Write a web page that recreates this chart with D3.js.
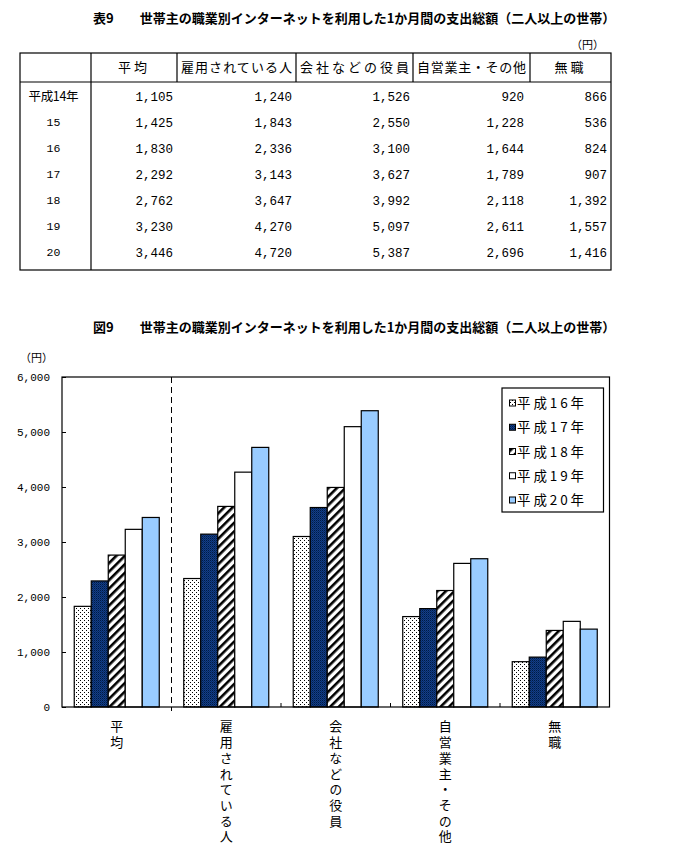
<!DOCTYPE html>
<html><head><meta charset="utf-8">
<script src="https://cdn.jsdelivr.net/npm/d3@7"></script>
<style>
html,body{margin:0;padding:0;background:#fff;}
svg{display:block;}
.jp{font-family:"Noto Sans CJK JP","Noto Sans CJK SC",sans-serif;}
.num{font-family:"Liberation Mono","DejaVu Sans Mono",monospace;}
</style></head>
<body>
<svg id="c" width="700" height="855"></svg>
<script>
// ---------- data ----------
const tableTitle = "表9　　世帯主の職業別インターネットを利用した1か月間の支出総額（二人以上の世帯）";
const chartTitle = "図9　　世帯主の職業別インターネットを利用した1か月間の支出総額（二人以上の世帯）";
const unitLabel = "（円）";
const categories = ["平均", "雇用されている人", "会社などの役員", "自営業主・その他", "無職"];
const yearLabels = ["平成14年", "15", "16", "17", "18", "19", "20"];
const avgValues      = [1105, 1425, 1830, 2292, 2762, 3230, 3446];
const employedValues = [1240, 1843, 2336, 3143, 3647, 4270, 4720];
const execValues     = [1526, 2550, 3100, 3627, 3992, 5097, 5387];
const selfValues     = [920, 1228, 1644, 1789, 2118, 2611, 2696];
const noJobValues    = [866, 536, 824, 907, 1392, 1557, 1416];
const chartYears = ["平成16年", "平成17年", "平成18年", "平成19年", "平成20年"];
const chartYearIndex = [2, 3, 4, 5, 6];
const yTicks = [0, 1000, 2000, 3000, 4000, 5000, 6000];

const seriesByCat = [avgValues, employedValues, execValues, selfValues, noJobValues];
const fmt = d3.format(",");

const svg = d3.select("#c");

// ---------- patterns ----------
const defs = svg.append("defs");
const pDots = defs.append("pattern").attr("id","pDots").attr("patternUnits","userSpaceOnUse")
  .attr("width",4).attr("height",4);
pDots.append("rect").attr("width",4).attr("height",4).attr("fill","#fff");
pDots.append("rect").attr("x",0).attr("y",0).attr("width",1).attr("height",1).attr("fill","#000");
pDots.append("rect").attr("x",2).attr("y",2).attr("width",1).attr("height",1).attr("fill","#000");

const pNavy = defs.append("pattern").attr("id","pNavy").attr("patternUnits","userSpaceOnUse")
  .attr("width",2).attr("height",2);
pNavy.append("rect").attr("width",2).attr("height",2).attr("fill","#123f88");
pNavy.append("rect").attr("x",0).attr("y",0).attr("width",1).attr("height",1).attr("fill","#001a44");
pNavy.append("rect").attr("x",1).attr("y",1).attr("width",1).attr("height",1).attr("fill","#0a2a66");

const pHatch = defs.append("pattern").attr("id","pHatch").attr("patternUnits","userSpaceOnUse")
  .attr("width",6).attr("height",6).attr("patternTransform","rotate(45)");
pHatch.append("rect").attr("width",6).attr("height",6).attr("fill","#fff");
pHatch.append("rect").attr("x",0).attr("y",0).attr("width",2.6).attr("height",6).attr("fill","#000");

const fills = ["url(#pDots)", "url(#pNavy)", "url(#pHatch)", "#ffffff", "#99ccff"];
const color = d3.scaleOrdinal(chartYears, fills);

// ---------- table ----------
svg.append("text").attr("class","jp").attr("x",93).attr("y",23)
  .attr("font-size",13).attr("font-weight","bold").text(tableTitle);
svg.append("text").attr("class","jp").attr("x",604).attr("y",49).attr("text-anchor","end")
  .attr("font-size",11).text(unitLabel);

const colX = [20, 91, 177, 296, 413, 530, 611];
const tTop = 53, tHead = 82, tBot = 270;
const rowY = d3.scalePoint(d3.range(yearLabels.length), [96, 251.5]);
const tg = svg.append("g").attr("stroke","#000").attr("fill","none").attr("stroke-width",1.2);
tg.append("rect").attr("x",colX[0]).attr("y",tTop).attr("width",colX[6]-colX[0]).attr("height",tBot-tTop);
tg.append("line").attr("x1",colX[0]).attr("x2",colX[6]).attr("y1",tHead).attr("y2",tHead);
tg.append("line").attr("x1",colX[1]).attr("x2",colX[1]).attr("y1",tTop).attr("y2",tBot);
[2,3,4,5].forEach(i=>tg.append("line").attr("x1",colX[i]).attr("x2",colX[i]).attr("y1",tTop).attr("y2",tHead));

categories.forEach((c,i)=>{
  const cx=(colX[i+1]+colX[i+2])/2;
  const t = svg.append("text").attr("class","jp").attr("x",cx).attr("y",72).attr("text-anchor","middle")
    .attr("font-size",13).text(c);
  if (c.length>4) t.attr("textLength",(colX[i+2]-colX[i+1])-8).attr("lengthAdjust","spacing");
  else t.attr("letter-spacing",3);
});
yearLabels.forEach((y,r)=>{
  const t = svg.append("text").attr("class", r===0?"jp":"num").attr("x",(colX[0]+colX[1])/2-2).attr("y",rowY(r)+4.5)
    .attr("text-anchor","middle").attr("font-size", r===0?12.5:11.5)
    .text(y);
  if (r===0) t.attr("textLength",50).attr("lengthAdjust","spacing");
});
const numRight = [173, 292, 410, 524, 607];
seriesByCat.forEach((vals,ci)=>{
  vals.forEach((v,r)=>{
    svg.append("text").attr("class","num").attr("x",numRight[ci]).attr("y",rowY(r)+5)
      .attr("text-anchor","end").attr("font-size",12.5).text(fmt(v));
  });
});

// ---------- chart ----------
svg.append("text").attr("class","jp").attr("x",93).attr("y",332)
  .attr("font-size",13).attr("font-weight","bold").text(chartTitle);
svg.append("text").attr("class","jp").attr("x",53).attr("y",362).attr("text-anchor","end")
  .attr("font-size",11).text(unitLabel);

const L=62, R=609.5, T=377, B=707;
const y = d3.scaleLinear([0,6000],[B,T]);
const x0 = d3.scaleBand(categories,[L,R]).padding(0);
const x1 = d3.scaleBand(chartYears,[0,x0.bandwidth()]).paddingInner(0).paddingOuter(0.72);

// y axis ticks (inward) and labels
const yAxis = d3.axisRight(y).tickValues(yTicks).tickSize(4).tickFormat("");
svg.append("g").attr("transform",`translate(${L},0)`).call(yAxis)
  .call(g=>g.select(".domain").remove())
  .call(g=>g.selectAll("line").attr("stroke","#000"));
svg.append("g").selectAll("text").data(yTicks).join("text").attr("class","num")
  .attr("x",50).attr("y",d=>y(d)+4).attr("text-anchor","end").attr("font-size",11).text(d=>fmt(d));

// bars
const barData = [];
categories.forEach((c,ci)=>chartYears.forEach((yr,k)=>{
  barData.push({cat:c, year:yr, value: seriesByCat[ci][chartYearIndex[k]]});
}));
svg.append("g").selectAll("rect").data(barData).join("rect")
  .attr("x",d=>x0(d.cat)+x1(d.year))
  .attr("y",d=>y(d.value))
  .attr("width",x1.bandwidth())
  .attr("height",d=>B-y(d.value))
  .attr("fill",d=>color(d.year))
  .attr("stroke","#000").attr("stroke-width",1.2);

// plot frame
svg.append("rect").attr("x",L).attr("y",T).attr("width",R-L).attr("height",B-T)
  .attr("fill","none").attr("stroke","#000").attr("stroke-width",1.2);

// category boundaries: dashed separator after 平均, inward ticks elsewhere
svg.append("line").attr("x1",x0(categories[1])).attr("x2",x0(categories[1]))
  .attr("y1",T).attr("y2",B+4).attr("stroke","#000").attr("stroke-dasharray","6,4");
svg.append("g").selectAll("line").data(categories.slice(2)).join("line")
  .attr("x1",d=>x0(d)).attr("x2",d=>x0(d)).attr("y1",B-4).attr("y2",B).attr("stroke","#000");

// vertical category labels
svg.append("g").selectAll("text").data(categories).join("text").attr("class","jp")
  .attr("x",d=>x0(d)+x0.bandwidth()/2).attr("y",720)
  .attr("writing-mode","tb").style("writing-mode","vertical-rl")
  .attr("font-size",13).attr("letter-spacing",2.7)
  .text(d=>d);

// legend
const lg = svg.append("g");
lg.append("rect").attr("x",502).attr("y",388).attr("width",101.5).attr("height",124)
  .attr("fill","#fff").attr("stroke","#000").attr("stroke-width",1.2);
const ly = d3.scalePoint(chartYears,[403,500]);
chartYears.forEach(yr=>{
  lg.append("rect").attr("x",509.5).attr("y",ly(yr)-3).attr("width",6).attr("height",6)
    .attr("fill",color(yr)).attr("stroke","#000").attr("stroke-width",1);
  lg.append("text").attr("class","jp").attr("x",517).attr("y",ly(yr)+5)
    .attr("font-size",13.5).attr("textLength",67).attr("lengthAdjust","spacing").text(yr);
});
</script>
</body></html>
